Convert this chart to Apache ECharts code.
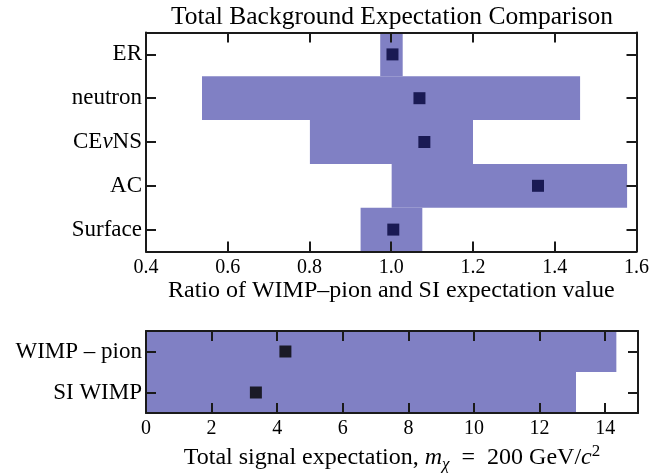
<!DOCTYPE html>
<html>
<head>
<meta charset="utf-8">
<script src="https://cdn.jsdelivr.net/npm/echarts@6/dist/echarts.min.js"></script>
<style>html,body{margin:0;padding:0;background:#fff;}#c{width:652px;height:474px;}</style>
</head>
<body>
<div id="c"></div>
<script>
const topCats = ['ER', 'neutron', 'CEνNS', 'AC', 'Surface'];
const topLow  = [0.973, 0.537, 0.801, 1.001, 0.925];
const topHigh = [1.028, 1.462, 1.200, 1.577, 1.076];
const topMark = [1.003, 1.069, 1.081, 1.359, 1.005];
const botCats = ['WIMP – pion', 'SI WIMP'];
const botBar  = [14.34, 13.11];
const botMark = [4.25, 3.35];

const F = 'Liberation Serif';
const BAR = '#8080C4';
const AX = '#1a1a1a';

const chart = echarts.init(document.getElementById('c'));
const lineStyle = {color: AX, width: 2};
function xAx(grid, pos, min, max, interval, extra) {
  return Object.assign({
    gridIndex: grid, type: 'value', position: pos, min: min, max: max, interval: interval,
    axisLine: {show: true, onZero: false, lineStyle: lineStyle},
    axisTick: {show: true, inside: true, length: 10, lineStyle: lineStyle},
    axisLabel: {show: false},
    splitLine: {show: false}, z: 10
  }, extra || {});
}
function yAx(grid, pos, cats, extra) {
  return Object.assign({
    gridIndex: grid, type: 'category', position: pos, data: cats, inverse: true,
    axisLine: {show: true, onZero: false, lineStyle: lineStyle},
    axisTick: {show: true, inside: true, alignWithLabel: true, length: 10, lineStyle: lineStyle},
    axisLabel: {show: false},
    splitLine: {show: false}, z: 10
  }, extra || {});
}
const tickLabel = {show: true, margin: 6, fontFamily: F, fontSize: 20, color: '#000'};
const nameStyle = {fontFamily: F, fontSize: 24, color: '#000'};

const option = {
  animation: false,
  backgroundColor: '#fff',
  title: {
    text: 'Total Background Expectation Comparison',
    left: 392, top: 4, textAlign: 'center', padding: 0,
    textStyle: {fontFamily: F, fontSize: 25.5, fontWeight: 'normal', color: '#000'}
  },
  grid: [
    {left: 146, right: 14, top: 32.5, height: 219},
    {left: 146, right: 14, top: 331, height: 88}
  ],
  xAxis: [
    xAx(0, 'bottom', 0.4, 1.6, 0.2, {
      name: 'Ratio of WIMP–pion and SI expectation value',
      nameLocation: 'middle', nameGap: 27, nameTextStyle: nameStyle,
      axisLabel: Object.assign({}, tickLabel, {formatter: v => v.toFixed(1)})
    }),
    xAx(0, 'top', 0.4, 1.6, 0.2),
    xAx(1, 'bottom', 0, 15, 2, {
      name: 'Total signal expectation, {i|m}{sub|χ}\u2002=\u2002200 GeV/{i|c}{sup|2}',
      nameLocation: 'middle', nameGap: 30,
      nameTextStyle: Object.assign({}, nameStyle, {
        lineHeight: 30,
        rich: {
          i: {fontFamily: F, fontSize: 24, fontStyle: 'italic', color: '#000'},
          sub: {fontFamily: F, fontSize: 17, fontStyle: 'italic', color: '#000', verticalAlign: 'bottom'},
          sup: {fontFamily: F, fontSize: 17, color: '#000', verticalAlign: 'top'}
        }
      }),
      axisLabel: Object.assign({}, tickLabel, {formatter: v => (v === 15 ? '' : String(v))})
    }),
    xAx(1, 'top', 0, 15, 2)
  ],
  yAxis: [
    yAx(0, 'left', topCats, {
      axisLabel: {show: true, margin: 4, fontFamily: F, fontSize: 23, color: '#000',
        formatter: v => v.replace('ν', '{i|ν}'),
        rich: {i: {fontFamily: F, fontSize: 23, fontStyle: 'italic', color: '#000'}}}
    }),
    yAx(0, 'right', topCats),
    yAx(1, 'left', botCats, {
      axisLabel: {show: true, margin: 4, fontFamily: F, fontSize: 23, color: '#000'}
    }),
    yAx(1, 'right', botCats)
  ],
  series: [
    {
      type: 'custom', xAxisIndex: 0, yAxisIndex: 0, z: 1,
      data: topCats.map((c, i) => [topLow[i], topHigh[i], i]),
      encode: {x: [0, 1], y: 2},
      renderItem: function (params, api) {
        const i = api.value(2);
        const p1 = api.coord([api.value(0), i]);
        const p2 = api.coord([api.value(1), i]);
        const h = api.size([0, 1])[1];
        return {type: 'rect', shape: {x: p1[0], y: p1[1] - h / 2, width: p2[0] - p1[0], height: h},
          style: {fill: BAR}};
      }
    },
    {
      type: 'scatter', xAxisIndex: 0, yAxisIndex: 0, z: 3,
      data: topMark.map((v, i) => [v, i]),
      symbol: 'rect', symbolSize: 12, itemStyle: {color: '#000038'}
    },
    {
      type: 'bar', xAxisIndex: 2, yAxisIndex: 2, z: 1,
      data: botBar, barWidth: '100%', barCategoryGap: '0%',
      itemStyle: {color: BAR}
    },
    {
      type: 'scatter', xAxisIndex: 2, yAxisIndex: 2, z: 3,
      data: botMark.map((v, i) => [v, i]),
      symbol: 'rect', symbolSize: 12, itemStyle: {color: '#000'}
    }
  ]
};
chart.setOption(option);
</script>
</body>
</html>
